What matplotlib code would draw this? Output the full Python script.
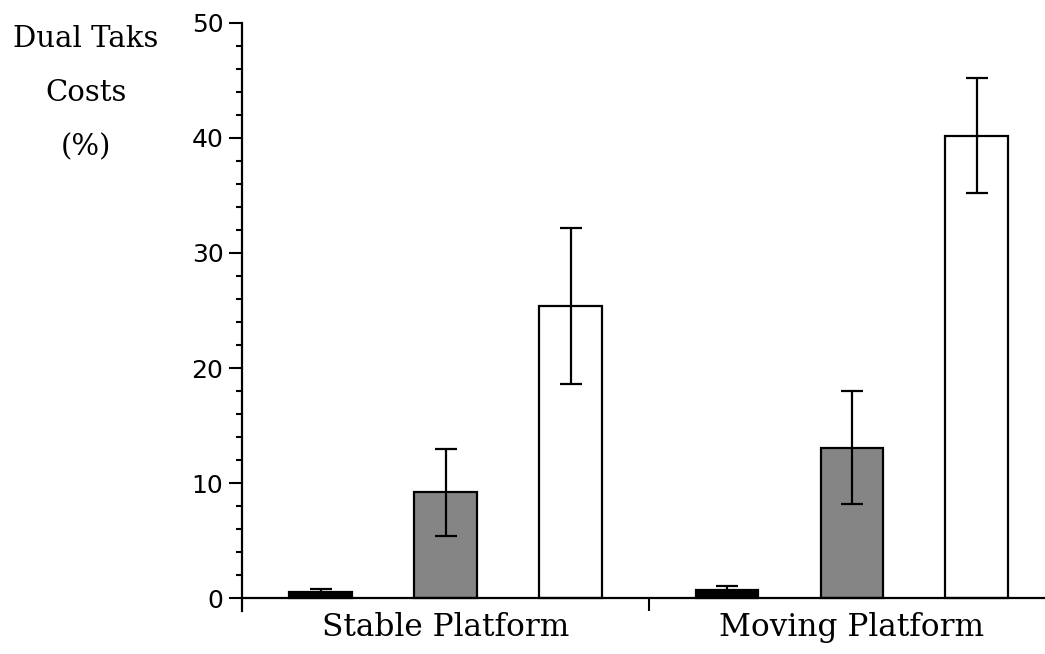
import matplotlib
matplotlib.use("Agg")
import matplotlib.pyplot as plt
from matplotlib.ticker import MultipleLocator, FixedLocator

# Valores (custos de dupla tarefa, %)
groups = ["Stable Platform", "Moving Platform"]
black_vals = [0.55, 0.7]
black_err = [0.3, 0.35]
gray_vals = [9.2, 13.1]
gray_err = [3.75, 4.9]
white_vals = [25.4, 40.2]
white_err = [6.8, 5.0]
y_ticks = [0, 10, 20, 30, 40, 50]

fig = plt.figure(figsize=(10.45, 6.54), dpi=100, facecolor="white")
ax = fig.add_axes([242 / 1045, 1 - 611 / 654, 1 - 242 / 1045, (611 - 22.7) / 654])

group_offset = 3.25
width = 0.5
series = [
    (black_vals, black_err, "black"),
    (gray_vals, gray_err, "#858585"),
    (white_vals, white_err, "white"),
]
for i, (vals, errs, color) in enumerate(series):
    xs = [i + g * group_offset for g in range(len(groups))]
    ax.bar(xs, vals, width=width, color=color, edgecolor="black", linewidth=1.6, zorder=2)
    ax.errorbar(xs, vals, yerr=errs, fmt="none", ecolor="black", elinewidth=1.6,
                capsize=8, capthick=1.6, zorder=3)

ax.set_xlim(-0.628, 5.796)
ax.set_ylim(-1.1, 50)

for side in ["top", "right"]:
    ax.spines[side].set_visible(False)
ax.spines["left"].set_linewidth(1.6)
ax.spines["bottom"].set_linewidth(1.6)
ax.spines["bottom"].set_position(("data", 0))

ax.yaxis.set_major_locator(FixedLocator(y_ticks))
ax.yaxis.set_minor_locator(MultipleLocator(2))
ax.tick_params(axis="y", which="major", direction="out", length=9.4, width=1.5, pad=4)
ax.tick_params(axis="y", which="minor", direction="out", length=4.4, width=1.5)
ax.set_yticklabels([str(t) for t in y_ticks], fontfamily="DejaVu Sans", fontsize=18)

sep = (2 + group_offset) / 2
ax.set_xticks([sep])
ax.set_xticklabels([""])
ax.tick_params(axis="x", which="major", direction="out", length=9, width=1.5)

for g, name in enumerate(groups):
    ax.text(1 + g * group_offset, -2.5, name, ha="center", va="center",
            fontsize=22.5, fontfamily="DejaVu Serif")

fig.text(86 / 1045, 1 - 93 / 654, "Dual Taks\nCosts\n(%)", ha="center", va="center",
         fontsize=21, fontfamily="DejaVu Serif", linespacing=2.2)

fig.savefig("out.png", dpi=100, facecolor="white")
